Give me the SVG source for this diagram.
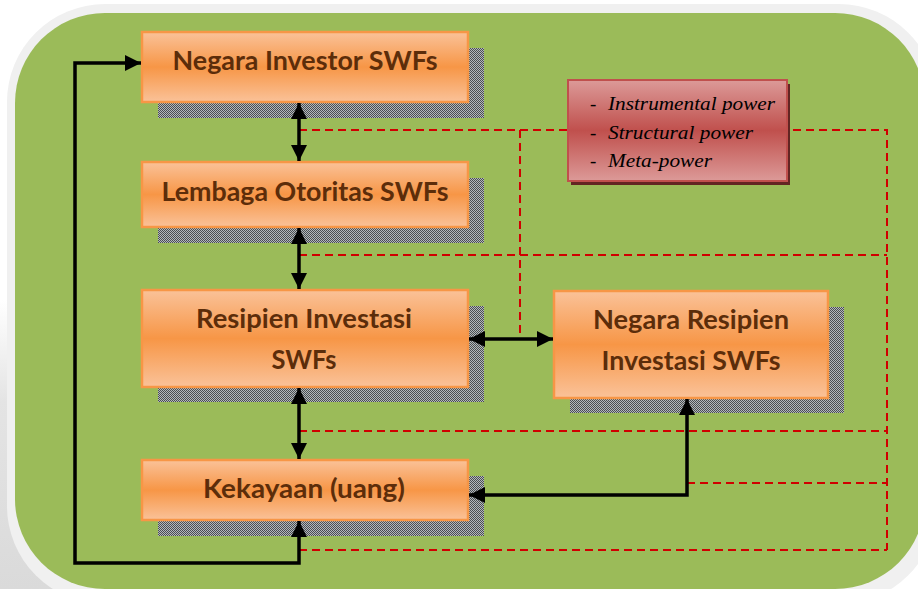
<svg xmlns="http://www.w3.org/2000/svg" width="918" height="589" viewBox="0 0 918 589">
  <defs>
    <linearGradient id="og" x1="0" y1="0" x2="0" y2="1">
      <stop offset="0" stop-color="#FAC299"/>
      <stop offset="0.5" stop-color="#F79646"/>
      <stop offset="1" stop-color="#FAC299"/>
    </linearGradient>
    <linearGradient id="rg" x1="0" y1="0" x2="0" y2="1">
      <stop offset="0" stop-color="#DC9A98"/>
      <stop offset="0.5" stop-color="#C0504D"/>
      <stop offset="1" stop-color="#DC9A98"/>
    </linearGradient>
    <linearGradient id="lg" x1="0" y1="0" x2="0" y2="1">
      <stop offset="0" stop-color="#FFFFFF"/>
      <stop offset="0.35" stop-color="#E4E4E4"/>
      <stop offset="1" stop-color="#DADADA"/>
    </linearGradient>
    <pattern id="chk" width="2" height="2" patternUnits="userSpaceOnUse">
      <rect width="2" height="2" fill="#B4B8BC"/>
      <rect width="1" height="1" fill="#4A4E52"/>
      <rect x="1" y="1" width="1" height="1" fill="#4A4E52"/>
    </pattern>
    <marker id="ah" viewBox="0 0 16 16" refX="16" refY="8" markerWidth="16" markerHeight="16" markerUnits="userSpaceOnUse" orient="auto-start-reverse">
      <path d="M0,0 L16,8 L0,16 z" fill="#000"/>
    </marker>
  </defs>
  <style>
    .box{fill:url(#og);stroke:#F79646;stroke-width:2.5}
    .sh{fill:url(#chk)}
    .bt{font-family:Lato,"Open Sans","Liberation Sans",sans-serif;font-weight:bold;font-size:27px;fill:#5C2D0A;text-anchor:middle}
    .rt{font-family:"Liberation Serif","Times New Roman",serif;font-style:italic;font-size:19px;fill:#000}
    .arr{fill:none;stroke:#000;stroke-width:3.5;marker-start:url(#ah);marker-end:url(#ah)}
    .dash{fill:none;stroke:#D00000;stroke-width:2;stroke-dasharray:8,5}
  </style>

  <!-- background -->
  <rect x="0" y="0" width="918" height="589" fill="#FFFFFF"/>
  <rect x="0" y="300" width="110" height="289" fill="url(#lg)"/>
  <rect x="7" y="4" width="930" height="600" rx="98" ry="98" fill="#F0F0F0"/>
  <rect x="15" y="13" width="910" height="576" rx="90" ry="90" fill="#9BBB59"/>

  <!-- dashed relation lines -->
  <g id="dashes">
    <path class="dash" d="M299,130 H887 V550"/>
    <path class="dash" d="M520,130 V339"/>
    <path class="dash" d="M299,255 H887"/>
    <path class="dash" d="M299,431 H887"/>
    <path class="dash" d="M687,483 H887"/>
    <path class="dash" d="M299,550 H887"/>
  </g>

  <!-- nodes -->
  <g id="n1">
    <rect class="sh" x="158" y="48" width="326" height="70"/>
    <rect class="box" x="142" y="32" width="326" height="70"/>
    <text class="bt" x="305" y="70" textLength="265" lengthAdjust="spacingAndGlyphs">Negara Investor SWFs</text>
  </g>
  <g id="n2">
    <rect class="sh" x="158" y="178" width="326" height="65"/>
    <rect class="box" x="142" y="162" width="326" height="65"/>
    <text class="bt" x="305" y="201" textLength="287" lengthAdjust="spacingAndGlyphs">Lembaga Otoritas SWFs</text>
  </g>
  <g id="n3">
    <rect class="sh" x="158" y="306" width="326" height="96"/>
    <rect class="box" x="142" y="290" width="326" height="97"/>
    <text class="bt" x="304" y="328" textLength="216" lengthAdjust="spacingAndGlyphs">Resipien Investasi</text>
    <text class="bt" x="304" y="369" textLength="65" lengthAdjust="spacingAndGlyphs">SWFs</text>
  </g>
  <g id="n4">
    <rect class="sh" x="158" y="476" width="326" height="60"/>
    <rect class="box" x="142" y="460" width="326" height="60"/>
    <text class="bt" x="304" y="498" textLength="202" lengthAdjust="spacingAndGlyphs">Kekayaan (uang)</text>
  </g>
  <g id="n5">
    <rect class="sh" x="570" y="307" width="274" height="106"/>
    <rect class="box" x="554" y="291" width="274" height="107"/>
    <text class="bt" x="691" y="329" textLength="196" lengthAdjust="spacingAndGlyphs">Negara Resipien</text>
    <text class="bt" x="691" y="370" textLength="179" lengthAdjust="spacingAndGlyphs">Investasi SWFs</text>
  </g>
  <g id="n6">
    <rect x="571" y="84" width="219" height="101" fill="#632523"/>
    <rect x="568" y="80" width="219" height="101" fill="url(#rg)" stroke="#C0504D" stroke-width="2"/>
    <text class="rt" x="590" y="110">-</text>
    <text class="rt" x="608" y="110" textLength="167" lengthAdjust="spacingAndGlyphs">Instrumental power</text>
    <text class="rt" x="590" y="139">-</text>
    <text class="rt" x="608" y="139" textLength="145" lengthAdjust="spacingAndGlyphs">Structural power</text>
    <text class="rt" x="590" y="167">-</text>
    <text class="rt" x="608" y="167" textLength="104" lengthAdjust="spacingAndGlyphs">Meta-power</text>
  </g>

  <!-- connectors -->
  <g id="connectors">
    <path class="arr" d="M299,103 V161"/>
    <path class="arr" d="M299,228 V289"/>
    <path class="arr" d="M299,388 V459"/>
    <path class="arr" d="M469,339 H553"/>
    <path class="arr" d="M299,521 V563 H75 V63 H141"/>
    <path class="arr" d="M687,399 V495 H469"/>
  </g>
</svg>
